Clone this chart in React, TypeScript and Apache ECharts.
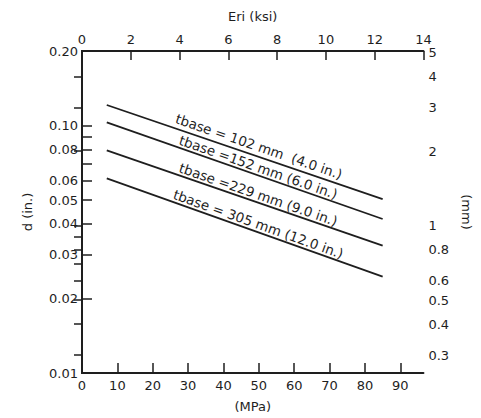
import React, { useEffect, useRef } from "react";
import * as echarts from "echarts";

// Base modulus (MPa) at the two ends of each design line
const modulusMPa = [7, 85];

// Deflection d (in.) at those ends, one line per base thickness
const dBase102 = [0.121, 0.0504];
const dBase152 = [0.103, 0.0419];
const dBase229 = [0.0793, 0.0327];
const dBase305 = [0.0612, 0.0245];

const lineLabels = [
  "tbase = 102 mm  (4.0 in.)",
  "tbase =152 mm (6.0 in.)",
  "tbase =229 mm (9.0 in.)",
  "tbase = 305 mm (12.0 in.)",
];
const lineSeries = [dBase102, dBase152, dBase229, dBase305];

// Axis ranges and tick values
const MPA_PER_KSI = 6.894757;
const ksiMax = 14;
const mpaMax = ksiMax * MPA_PER_KSI;
const dMinIn = 0.01;
const dMaxIn = 0.2;
const MM_PER_IN = 25.4;

const inchLabels = [0.01, 0.02, 0.03, 0.04, 0.05, 0.06, 0.08, 0.1, 0.2];
const inchTicks = [0.02, 0.03, 0.04, 0.05, 0.06, 0.07, 0.08, 0.09, 0.1];
const mmLabels = [0.3, 0.4, 0.5, 0.6, 0.8, 1, 2, 3, 4, 5];
const mmTicks = [0.3, 0.4, 0.5, 0.6, 0.7, 0.8, 0.9, 1, 2, 3, 4];

const FONT = "DejaVu Sans";
const INK = "#1e1e1e";

export default function App() {
  const ref = useRef<HTMLDivElement>(null);

  useEffect(() => {
    if (!ref.current) return;
    const chart = echarts.init(ref.current, null, { renderer: "svg" });

    const axisLine = { show: true, lineStyle: { color: INK, width: 2 } };
    const labelStyle = { color: INK, fontSize: 13, fontFamily: FONT };
    const nameStyle = { color: INK, fontSize: 13, fontFamily: FONT };

    chart.setOption({
      animation: false,
      backgroundColor: "#ffffff",
      grid: { left: 82, right: 46, top: 51, bottom: 43, containLabel: false },
      xAxis: [
        {
          type: "value",
          position: "bottom",
          min: 0,
          max: mpaMax,
          interval: 10,
          axisLine,
          axisTick: { show: true, inside: true, length: 10, lineStyle: { color: INK, width: 1.5 } },
          axisLabel: { ...labelStyle, margin: 6, showMaxLabel: false },
          splitLine: { show: false },
          name: "(MPa)",
          nameLocation: "middle",
          nameGap: 27,
          nameTextStyle: nameStyle,
        },
        {
          type: "value",
          position: "top",
          min: 0,
          max: ksiMax,
          interval: 2,
          axisLine,
          axisTick: { show: true, inside: true, length: 9, lineStyle: { color: INK, width: 1.5 } },
          axisLabel: { ...labelStyle, margin: 5 },
          splitLine: { show: false },
          name: "Eri (ksi)",
          nameLocation: "middle",
          nameGap: 28,
          nameTextStyle: nameStyle,
        },
      ],
      yAxis: [
        {
          type: "log",
          logBase: 10,
          position: "left",
          min: dMinIn,
          max: dMaxIn,
          axisLine,
          axisTick: {
            show: true,
            inside: true,
            length: 10,
            customValues: inchTicks,
            lineStyle: { color: INK, width: 1.5 },
          },
          axisLabel: {
            ...labelStyle,
            margin: 4,
            customValues: inchLabels,
            formatter: (v: number) => v.toFixed(2),
          },
          splitLine: { show: false },
          name: "d (in.)",
          nameLocation: "middle",
          nameGap: 48,
          nameRotate: 90,
          nameTextStyle: nameStyle,
        },
        {
          type: "log",
          logBase: 10,
          position: "right",
          min: dMinIn * MM_PER_IN,
          max: dMaxIn * MM_PER_IN,
          axisLine,
          axisTick: {
            show: true,
            inside: true,
            length: 8,
            customValues: mmTicks,
            lineStyle: { color: INK, width: 1.5 },
          },
          axisLabel: {
            ...labelStyle,
            margin: 5,
            customValues: mmLabels,
            formatter: (v: number) => String(v),
          },
          splitLine: { show: false },
          name: "(mm)",
          nameLocation: "middle",
          nameGap: 30,
          nameRotate: -90,
          nameTextStyle: nameStyle,
        },
      ],
      series: lineSeries.map((d, i) => ({
        name: lineLabels[i],
        type: "line",
        xAxisIndex: 0,
        yAxisIndex: 0,
        symbol: "none",
        silent: true,
        lineStyle: { color: INK, width: 1.8 },
        data: modulusMPa.map((x, k) => [x, d[k]]),
      })),
    });

    // Rotated labels running along each line, placed through the axes' scales
    const graphics = lineSeries.map((d, i) => {
      const p1 = chart.convertToPixel({ xAxisIndex: 0, yAxisIndex: 0 }, [modulusMPa[0], d[0]]) as number[];
      const p2 = chart.convertToPixel({ xAxisIndex: 0, yAxisIndex: 0 }, [modulusMPa[1], d[1]]) as number[];
      const a = Math.atan2(p2[1] - p1[1], p2[0] - p1[0]);
      const t = 0.54;
      const cx = p1[0] + (p2[0] - p1[0]) * t;
      const cy = p1[1] + (p2[1] - p1[1]) * t;
      const off = i === 0 ? 10 : 8;
      return {
        type: "text",
        x: cx + Math.sin(a) * off,
        y: cy - Math.cos(a) * off,
        rotation: -a,
        silent: true,
        style: {
          text: lineLabels[i],
          fill: INK,
          fontSize: 13.5,
          fontFamily: FONT,
          align: "center",
          verticalAlign: "middle",
        },
      };
    });
    chart.setOption({ graphic: graphics });

    return () => chart.dispose();
  }, []);

  return (
    <div
      ref={ref}
      style={{ position: "absolute", left: 0, top: 0, width: 481, height: 418 }}
    />
  );
}
